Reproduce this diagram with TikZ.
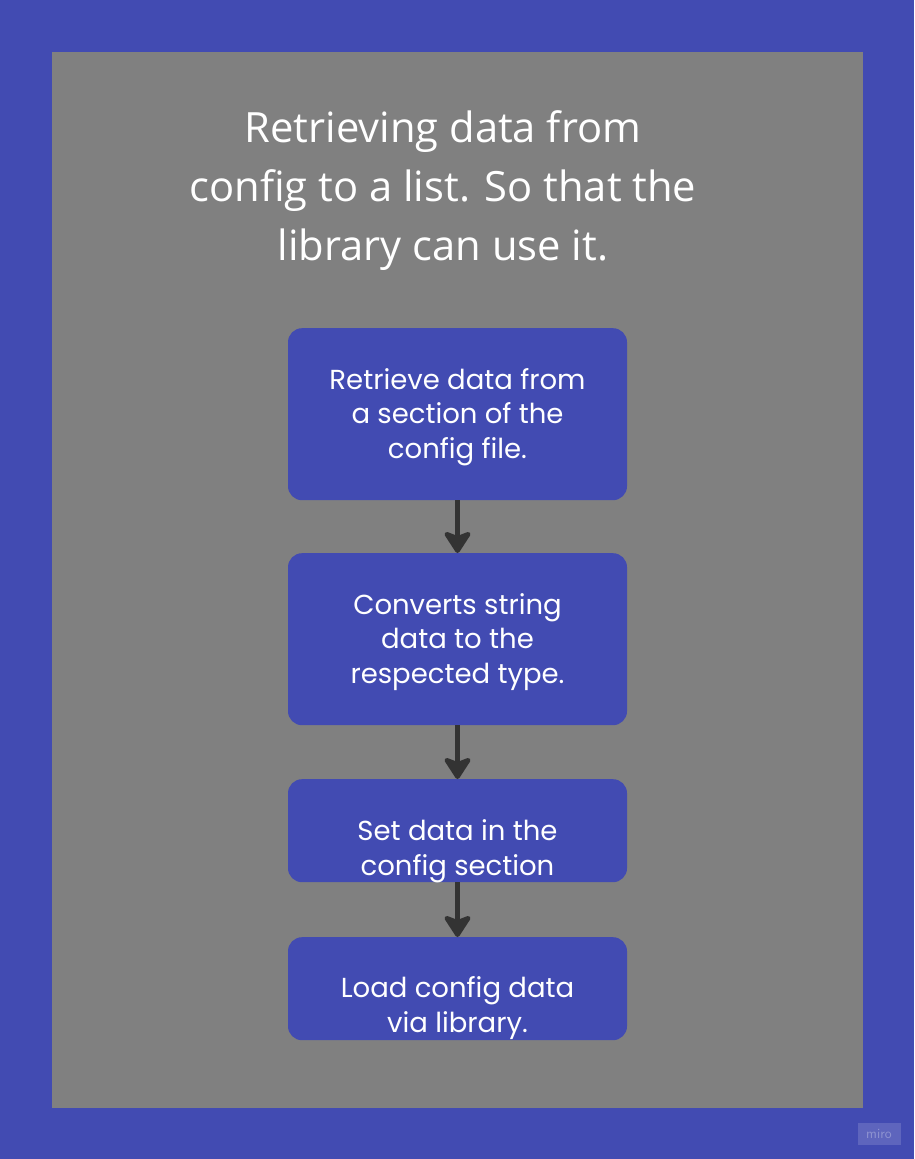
\documentclass[tikz,border=0pt]{standalone}
\usepackage{fontspec}
\setmainfont{Open Sans}
\newfontfamily\boxfont{Poppins}
\usetikzlibrary{arrows.meta}
\definecolor{bgblue}{RGB}{66,75,178}
\definecolor{panelgray}{RGB}{128,128,128}
\definecolor{arrowdark}{RGB}{51,51,51}
\tikzset{
  stepbox/.style={fill=bgblue, draw=none, rounded corners=14pt, minimum width=339pt, anchor=north, inner sep=0pt},
  steptext/.style={text=white, align=center, font=\boxfont\fontsize{27.5}{34.5}\selectfont, inner sep=0pt},
  flowarrow/.style={draw=arrowdark, line width=4.5pt,
     -{Stealth[length=25pt,width=32pt,inset=6pt,round]}},
}
\begin{document}
\begin{tikzpicture}[x=1pt,y=-1pt]
  \fill[bgblue] (0,0) rectangle (914,1159);
  \useasboundingbox (0,0) rectangle (914,1159);
  \fill[panelgray] (52,52) rectangle (863,1108);
  \node[text=white, align=center, font=\fontsize{41.7}{59}\selectfont] (title) at (443,190.5)
    {Retrieving data from\\config to a list. So that the\\library can use it.};
  \node[stepbox, minimum height=172pt] (s1) at (457.5,328) {};
  \node[stepbox, minimum height=172pt] (s2) at (457.5,553) {};
  \node[stepbox, minimum height=103pt] (s3) at (457.5,779) {};
  \node[stepbox, minimum height=103pt] (s4) at (457.5,937) {};
  \node[steptext] (t1) at (457.5,417) {Retrieve data from\\a section of the\\config file.};
  \node[steptext] (t2) at (457.5,642) {Converts string\\data to the\\respected type.};
  \node[steptext] (t3) at (457.5,851) {Set data in the\\config section};
  \node[steptext] (t4) at (457.5,1008) {Load config data\\via library.};
  \draw[flowarrow] (s1.south) -- (s2.north);
  \draw[flowarrow] (s2.south) -- (s3.north);
  \draw[flowarrow] (s3.south) -- (s4.north);
  \node[fill=white, fill opacity=0.15, text opacity=0.3, text=white, minimum width=43pt, minimum height=22pt,
        inner sep=0pt, font=\sffamily\fontsize{14}{14}\selectfont] (logo) at (879,1134) {miro};
\end{tikzpicture}
\end{document}
